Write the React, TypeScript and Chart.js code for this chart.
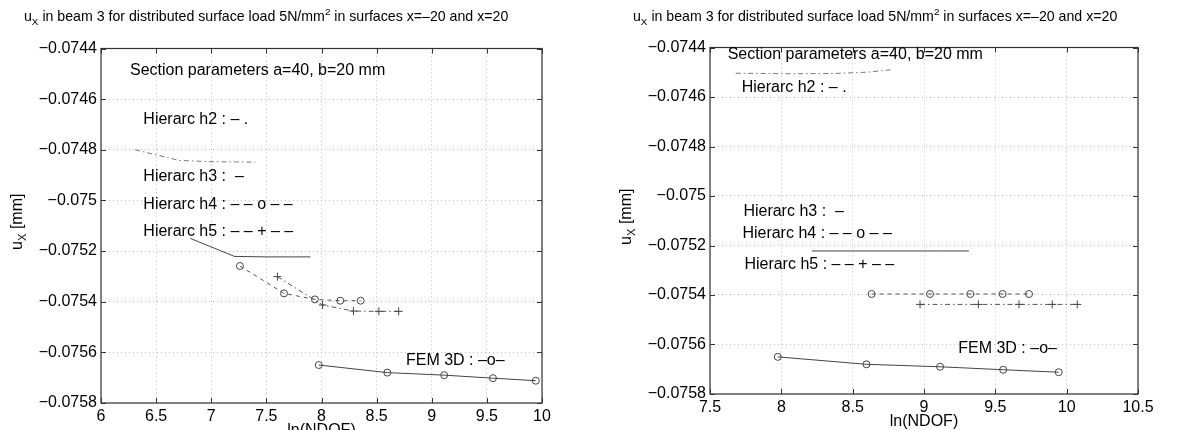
import React, { useEffect, useRef } from 'react';
import { Chart, registerables } from 'chart.js';
Chart.register(...registerables);

const FONT = '"Liberation Sans", Arial, Helvetica, sans-serif';

// ---- axes ticks ----
const yTicks = [-0.0758, -0.0756, -0.0754, -0.0752, -0.075, -0.0748, -0.0746, -0.0744];
const xTicksLeft = [6, 6.5, 7, 7.5, 8, 8.5, 9, 9.5, 10];
const xTicksRight = [7.5, 8, 8.5, 9, 9.5, 10, 10.5];

// ---- left panel series ----
const h2LeftX = [6.31, 6.71, 6.99, 7.22, 7.4];
const h2LeftY = [-0.0748, -0.074842, -0.074847, -0.074848, -0.074849];
const h3LeftX = [6.81, 7.21, 7.49, 7.72, 7.9];
const h3LeftY = [-0.07515, -0.075221, -0.075223, -0.075223, -0.075223];
const h4LeftX = [7.26, 7.66, 7.94, 8.17, 8.355];
const h4LeftY = [-0.075259, -0.075367, -0.075391, -0.075396, -0.075396];
const h5LeftX = [7.6, 8.01, 8.29, 8.52, 8.7];
const h5LeftY = [-0.075301, -0.075413, -0.075437, -0.075438, -0.075438];

// ---- right panel series ----
const h2RightX = [7.68, 8.085, 8.365, 8.595, 8.77];
const h2RightY = [-0.074504, -0.074506, -0.074505, -0.0745, -0.07449];
const h3RightX = [8.215, 8.615, 8.895, 9.125, 9.315];
const h3RightY = [-0.075222, -0.075222, -0.075222, -0.075222, -0.075222];
const h4RightX = [8.633, 9.042, 9.325, 9.551, 9.736];
const h4RightY = [-0.075396, -0.075396, -0.075396, -0.075396, -0.075396];
const h5RightX = [8.972, 9.381, 9.666, 9.899, 10.074];
const h5RightY = [-0.075438, -0.075438, -0.075438, -0.075438, -0.075438];

// ---- FEM 3D (both panels) ----
const femX = [7.975, 8.597, 9.113, 9.555, 9.944];
const femY = [-0.07565, -0.07568, -0.07569, -0.075702, -0.075712];

// ---- annotations ----
const annotTexts = [
  'Section parameters a=40, b=20 mm',
  'Hierarc h2 : – .',
  'Hierarc h3 :  –',
  'Hierarc h4 : – – o – –',
  'Hierarc h5 : – – + – –',
  'FEM 3D : –o–',
];
const annotLeftX = [6.263, 6.384, 6.384, 6.384, 6.384, 8.766];
const annotLeftY = [-0.074488, -0.074682, -0.074906, -0.075018, -0.075124, -0.075633];
const annotRightX = [7.624, 7.722, 7.734, 7.727, 7.741, 9.24];
const annotRightY = [-0.074427, -0.074562, -0.075063, -0.075151, -0.075279, -0.075615];

const titleParts: [string, string][] = [
  ['u', 'n'],
  ['X', 'sub'],
  [' in beam 3 for distributed surface load 5N/mm', 'n'],
  ['2', 'sup'],
  [' in surfaces x=–20 and x=20', 'n'],
];
const yTitleParts: [string, string][] = [
  ['u', 'n'],
  ['X', 'sub'],
  [' [mm]', 'n'],
];
const xTitle = 'ln(NDOF)';

function richWidth(ctx: CanvasRenderingContext2D, parts: [string, string][], fs: number) {
  let w = 0;
  for (const [t, k] of parts) {
    const s = k === 'n' ? fs : fs * 0.7;
    ctx.font = `${s}px ${FONT}`;
    w += ctx.measureText(t).width;
  }
  return w;
}
function drawRich(ctx: CanvasRenderingContext2D, parts: [string, string][], x: number, y: number, fs: number) {
  let cx = x;
  for (const [t, k] of parts) {
    const s = k === 'n' ? fs : fs * 0.7;
    ctx.font = `${s}px ${FONT}`;
    const dy = k === 'sub' ? fs * 0.3 : k === 'sup' ? -fs * 0.42 : 0;
    ctx.fillText(t, cx, y + dy);
    cx += ctx.measureText(t).width;
  }
}

type S = { xs: number[]; ys: number[]; color: string; dash: number[]; point: string | null };

function datasets(list: S[]) {
  return list.map((s) => ({
    data: s.xs.map((x, i) => ({ x, y: s.ys[i] })),
    borderColor: s.color,
    borderWidth: 1,
    borderDash: s.dash,
    pointStyle: s.point || 'circle',
    pointRadius: s.point ? (s.point === 'cross' ? 4 : 3.5) : 0,
    pointBorderColor: '#444',
    pointBackgroundColor: 'rgba(0,0,0,0)',
    pointBorderWidth: 1,
    fill: false,
    tension: 0,
  }));
}

type Cfg = {
  series: S[];
  xTicks: number[];
  yw: number;
  xh: number;
  top: number;
  right: number;
  annX: number[];
  annY: number[];
};

function Panel({ cfg }: { cfg: Cfg }) {
  const ref = useRef<HTMLCanvasElement>(null);
  useEffect(() => {
    const canvas = ref.current!;
    const frame = {
      id: 'frame',
      afterDraw(chart: any) {
        const ctx = chart.ctx as CanvasRenderingContext2D;
        const a = chart.chartArea;
        const xs = chart.scales.x;
        const ys = chart.scales.y;
        ctx.save();
        // box
        ctx.strokeStyle = '#333';
        ctx.lineWidth = 1.2;
        ctx.setLineDash([]);
        ctx.strokeRect(a.left, a.top, a.right - a.left, a.bottom - a.top);
        // inward ticks
        ctx.lineWidth = 1;
        ctx.beginPath();
        for (const v of cfg.xTicks) {
          const px = Math.round(xs.getPixelForValue(v)) + 0.5;
          ctx.moveTo(px, a.bottom);
          ctx.lineTo(px, a.bottom - 5);
          ctx.moveTo(px, a.top);
          ctx.lineTo(px, a.top + 5);
        }
        for (const v of yTicks) {
          const py = Math.round(ys.getPixelForValue(v)) + 0.5;
          ctx.moveTo(a.left, py);
          ctx.lineTo(a.left + 5, py);
          ctx.moveTo(a.right, py);
          ctx.lineTo(a.right - 5, py);
        }
        ctx.stroke();
        ctx.fillStyle = '#000';
        // title
        ctx.textBaseline = 'alphabetic';
        ctx.textAlign = 'left';
        const tw = richWidth(ctx, titleParts, 13);
        const tfs = (13 * 485) / tw;
        drawRich(ctx, titleParts, a.left - 77, 21, tfs);
        // x title
        ctx.font = `16px ${FONT}`;
        ctx.textAlign = 'center';
        ctx.textBaseline = 'middle';
        ctx.fillText(xTitle, (a.left + a.right) / 2, a.bottom + 28);
        // y title
        ctx.save();
        ctx.translate(a.left - 83, (a.top + a.bottom) / 2 - 4);
        ctx.rotate(-Math.PI / 2);
        ctx.textAlign = 'left';
        ctx.textBaseline = 'middle';
        const yw = richWidth(ctx, yTitleParts, 16);
        drawRich(ctx, yTitleParts, -yw / 2, 0, 16);
        ctx.restore();
        // annotations
        ctx.font = `16px ${FONT}`;
        ctx.textAlign = 'left';
        ctx.textBaseline = 'middle';
        annotTexts.forEach((t, i) => {
          ctx.fillText(t, xs.getPixelForValue(cfg.annX[i]), ys.getPixelForValue(cfg.annY[i]));
        });
        ctx.restore();
      },
    };
    const chart = new Chart(canvas, {
      type: 'line',
      data: { datasets: datasets(cfg.series) as any },
      options: {
        animation: false,
        responsive: false,
        maintainAspectRatio: false,
        devicePixelRatio: 1,
        events: [],
        layout: { padding: { left: 0, top: cfg.top, right: cfg.right, bottom: 0 } },
        plugins: { legend: { display: false }, tooltip: { enabled: false }, title: { display: false } },
        scales: {
          x: {
            type: 'linear',
            min: cfg.xTicks[0],
            max: cfg.xTicks[cfg.xTicks.length - 1],
            afterBuildTicks: (s: any) => {
              s.ticks = cfg.xTicks.map((v) => ({ value: v }));
            },
            afterFit: (s: any) => {
              s.height = cfg.xh;
            },
            ticks: {
              autoSkip: false,
              maxRotation: 0,
              padding: 4,
              color: '#000',
              font: { family: FONT, size: 16 },
              callback: (v: any) => String(Math.round(Number(v) * 10) / 10),
            },
            grid: { color: '#bdbdbd', drawTicks: false, lineWidth: 1 },
            border: { display: false, dash: [1, 3] },
          },
          y: {
            type: 'linear',
            min: yTicks[0],
            max: yTicks[yTicks.length - 1],
            afterBuildTicks: (s: any) => {
              s.ticks = yTicks.map((v) => ({ value: v }));
            },
            afterFit: (s: any) => {
              s.width = cfg.yw;
            },
            ticks: {
              autoSkip: false,
              padding: 4,
              color: '#000',
              font: { family: FONT, size: 16 },
              callback: (v: any) => '−' + String(Math.round(Math.abs(Number(v)) * 1e4) / 1e4),
            },
            grid: { color: '#bdbdbd', drawTicks: false, lineWidth: 1 },
            border: { display: false, dash: [1, 3] },
          },
        },
      } as any,
      plugins: [frame],
    });
    return () => chart.destroy();
  }, [cfg]);
  return <canvas ref={ref} width={594} height={430} style={{ display: 'block', width: 594, height: 430 }} />;
}

const DASHDOT = [5, 3, 1.5, 3];
const DASHED = [4, 4];

const leftCfg: Cfg = {
  series: [
    { xs: h2LeftX, ys: h2LeftY, color: '#777', dash: DASHDOT, point: null },
    { xs: h3LeftX, ys: h3LeftY, color: '#444', dash: [], point: null },
    { xs: h4LeftX, ys: h4LeftY, color: '#555', dash: DASHED, point: 'circle' },
    { xs: h5LeftX, ys: h5LeftY, color: '#555', dash: DASHDOT, point: 'cross' },
    { xs: femX, ys: femY, color: '#444', dash: [], point: 'circle' },
  ],
  xTicks: xTicksLeft,
  yw: 101,
  xh: 27,
  top: 48.5,
  right: 52,
  annX: annotLeftX,
  annY: annotLeftY,
};

const rightCfg: Cfg = {
  series: [
    { xs: h2RightX, ys: h2RightY, color: '#777', dash: DASHDOT, point: null },
    { xs: h3RightX, ys: h3RightY, color: '#444', dash: [], point: null },
    { xs: h4RightX, ys: h4RightY, color: '#555', dash: DASHED, point: 'circle' },
    { xs: h5RightX, ys: h5RightY, color: '#555', dash: DASHDOT, point: 'cross' },
    { xs: femX, ys: femY, color: '#444', dash: [], point: 'circle' },
  ],
  xTicks: xTicksRight,
  yw: 116,
  xh: 36,
  top: 47.5,
  right: 50,
  annX: annotRightX,
  annY: annotRightY,
};

export default function App() {
  return (
    <div style={{ position: 'absolute', left: 0, top: 0, width: 1188, height: 430, background: '#fff', display: 'flex', overflow: 'hidden' }}>
      <Panel cfg={leftCfg} />
      <Panel cfg={rightCfg} />
    </div>
  );
}
